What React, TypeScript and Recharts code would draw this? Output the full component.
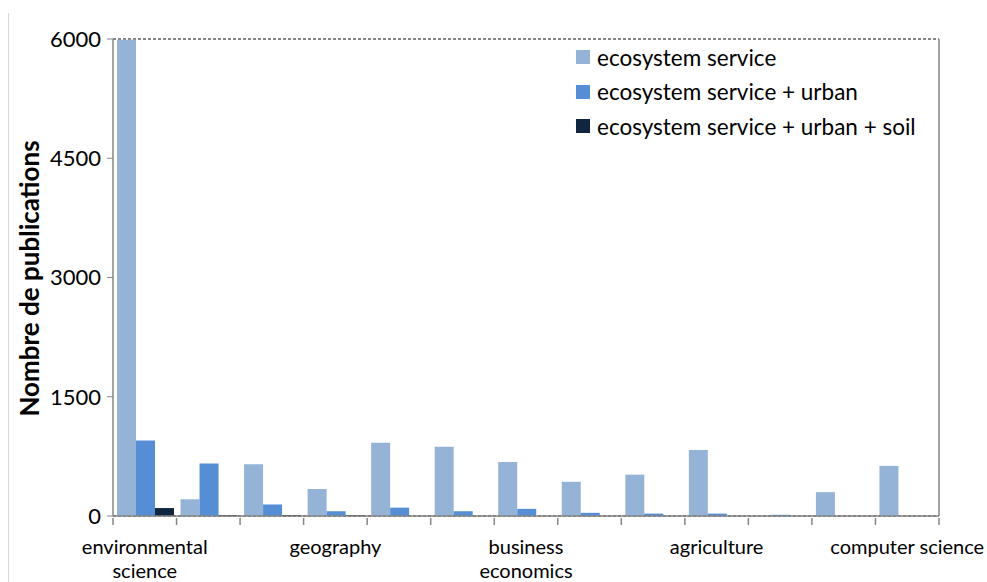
import React from 'react';
import { BarChart, Bar, XAxis, YAxis, CartesianGrid, Legend } from 'recharts';

// research areas (only every third one is labelled on the axis)
const categories = [
    'environmental science',
    'urban studies',
    'public administration',
    'geography',
    'biodiversity conservation',
    'water resources',
    'business economics',
    'engineering',
    'forestry',
    'agriculture',
    'architecture',
    'marine biology',
    'computer science',
];

const ecosystemService = [5990, 210, 650, 340, 920, 870, 680, 430, 520, 830, 0, 300, 630];
const withUrban = [950, 660, 145, 60, 105, 60, 90, 40, 30, 30, 15, 0, 0];
const withUrbanSoil = [100, 12, 12, 10, 0, 0, 0, 0, 0, 0, 0, 0, 0];

const yTicks = [0, 1500, 3000, 4500, 6000];

const data = categories.map((name, i) => ({
    name,
    es: ecosystemService[i],
    esUrban: withUrban[i],
    esUrbanSoil: withUrbanSoil[i],
}));

const FONT = 'Lato, "Open Sans", sans-serif';
const PLOT_LEFT = 113;
const PLOT_RIGHT = 939;
const STEP = (PLOT_RIGHT - PLOT_LEFT) / categories.length;

function CategoryTick(props: any) {
    const { x, y, payload, index } = props;
    const left = x - STEP / 2;
    const label: string = payload.value;
    let lines = [label];
    if (label.length > 16) {
        const cut = label.lastIndexOf(' ');
        lines = [label.slice(0, cut), label.slice(cut + 1)];
    }
    return (
        <g>
            <line x1={left} y1={y} x2={left} y2={y + 7} stroke="#868686" strokeWidth={1.5} />
            {index === categories.length - 1 && (
                <line x1={left + STEP} y1={y} x2={left + STEP} y2={y + 7} stroke="#868686" strokeWidth={1.5} />
            )}
            {index % 3 === 0 &&
                lines.map((l, i) => (
                    <text
                        key={i}
                        x={x}
                        y={y + 36 + i * 24}
                        textAnchor="middle"
                        fill="#000"
                        fontSize={20}
                        fontFamily={FONT}
                    >
                        {l}
                    </text>
                ))}
        </g>
    );
}

function renderLegend(props: any) {
    const { payload } = props;
    return (
        <div style={{ fontFamily: FONT }}>
            {payload.map((entry: any) => (
                <div key={entry.value} style={{ display: 'flex', alignItems: 'center', height: 34.5 }}>
                    <span style={{ width: 14, height: 14, background: entry.color, marginRight: 7 }} />
                    <span style={{ fontSize: 22.5, color: '#000' }}>{entry.value}</span>
                </div>
            ))}
        </div>
    );
}

export default function App() {
    return (
        <div style={{ position: 'absolute', left: 0, top: 0, width: 987, height: 582, background: '#fff' }}>
            <div style={{ position: 'absolute', left: 8, top: 13, bottom: 0, borderLeft: '1px solid #d9d9d9' }} />
            <BarChart
                width={987}
                height={582}
                data={data}
                margin={{ top: 39, right: 987 - PLOT_RIGHT - 1, bottom: 0, left: PLOT_LEFT - 60 }}
                barCategoryGap={4}
                barGap={0}
            >
                <CartesianGrid vertical={false} stroke="#858585" strokeWidth={2} strokeDasharray="3 2" />
                <XAxis
                    dataKey="name"
                    interval={0}
                    tickSize={0}
                    tickLine={false}
                    axisLine={{ stroke: '#868686', strokeWidth: 1.5 }}
                    tick={<CategoryTick />}
                    height={66}
                />
                <YAxis
                    yAxisId="left"
                    width={60}
                    domain={[0, 6000]}
                    ticks={yTicks}
                    tickSize={6}
                    tickMargin={6}
                    tickLine={{ stroke: '#868686' }}
                    axisLine={{ stroke: '#868686', strokeWidth: 1.5 }}
                    tick={{ fill: '#000', fontSize: 22, fontFamily: FONT }}
                    label={{
                        content: (p: any) => {
                            const vb = p.viewBox;
                            const cx = vb.x - 24;
                            const cy = vb.y + vb.height / 2 + 1;
                            return (
                                <text
                                    x={cx}
                                    y={cy}
                                    transform={`rotate(-90 ${cx} ${cy})`}
                                    textAnchor="middle"
                                    dominantBaseline="central"
                                    fontSize={26}
                                    fontWeight="bold"
                                    fontFamily={FONT}
                                    fill="#000"
                                >
                                    Nombre de publications
                                </text>
                            );
                        },
                    }}
                />
                <YAxis
                    yAxisId="right"
                    orientation="right"
                    width={1}
                    domain={[0, 6000]}
                    tick={false}
                    tickLine={false}
                    axisLine={{ stroke: '#868686', strokeWidth: 1.5 }}
                />
                <Legend
                    layout="vertical"
                    align="center"
                    verticalAlign="middle"
                    content={renderLegend}
                    wrapperStyle={{ left: 576, top: 40, width: 400 }}
                />
                <Bar yAxisId="left" dataKey="es" name="ecosystem service" fill="#95b3d7" isAnimationActive={false} />
                <Bar yAxisId="left" dataKey="esUrban" name="ecosystem service + urban" fill="#558ed5" isAnimationActive={false} />
                <Bar
                    yAxisId="left"
                    dataKey="esUrbanSoil"
                    name="ecosystem service + urban + soil"
                    fill="#10253f"
                    isAnimationActive={false}
                />
            </BarChart>
        </div>
    );
}
